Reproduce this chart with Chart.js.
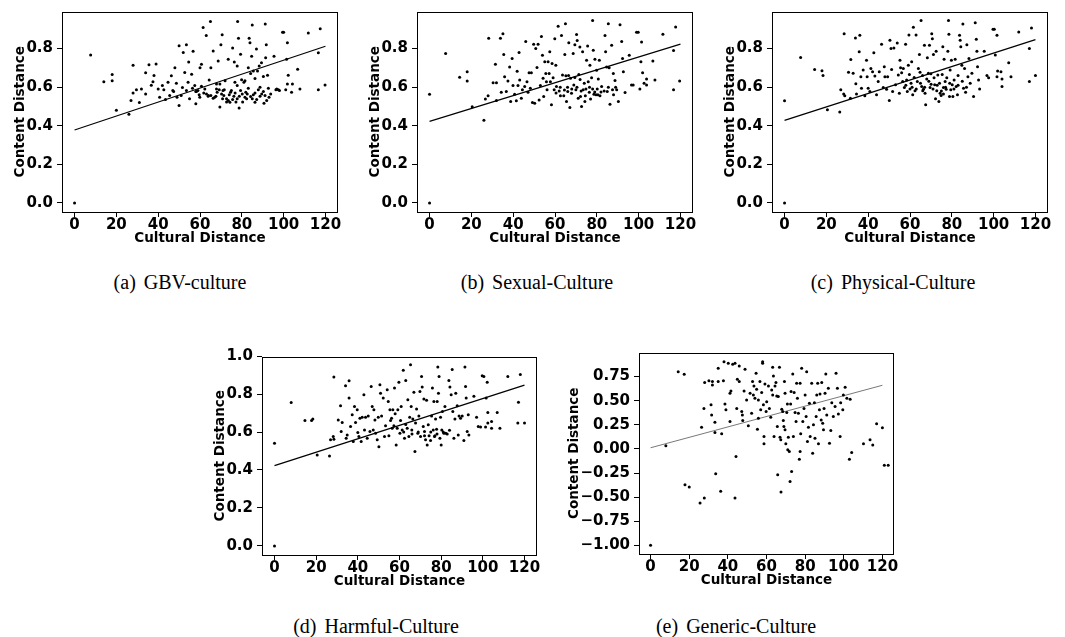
<!DOCTYPE html>
<html>
<head>
<meta charset="utf-8">
<script src="https://cdn.jsdelivr.net/npm/chart.js@4.4.1/dist/chart.umd.min.js"></script>
<style>
  body { margin: 0; background: #fff; }
  #fig { position: relative; width: 1065px; height: 637px; overflow: hidden; background: #fff; }
  canvas { position: absolute; }
  .cap { position: absolute; font-family: 'Liberation Serif', 'Times New Roman', serif; font-size: 20px;
         line-height: 20px; white-space: nowrap; transform: translateX(-50%); color: #000; }
  .cap span { margin-left: 8px; }
</style>
</head>
<body>
<div id="fig">
  <canvas id="cA" width="355" height="250" style="left:0px;top:0px"></canvas>
  <canvas id="cB" width="355" height="250" style="left:355px;top:0px"></canvas>
  <canvas id="cC" width="355" height="250" style="left:710px;top:0px"></canvas>
  <canvas id="cD" width="354" height="248" style="left:200px;top:345px"></canvas>
  <canvas id="cE" width="357" height="251" style="left:554px;top:341px"></canvas>
  <div class="cap" style="left:180px;top:272px">(a)<span>GBV-culture</span></div>
  <div class="cap" style="left:537px;top:272px">(b)<span>Sexual-Culture</span></div>
  <div class="cap" style="left:893px;top:272px">(c)<span>Physical-Culture</span></div>
  <div class="cap" style="left:376px;top:616px">(d)<span>Harmful-Culture</span></div>
  <div class="cap" style="left:736px;top:616px">(e)<span>Generic-Culture</span></div>
</div>
<script>
// tick values
const xTicks = [0, 20, 40, 60, 80, 100, 120];
const yTicksTop = [0, 0.2, 0.4, 0.6, 0.8];
const yTicksHarmful = [0, 0.2, 0.4, 0.6, 0.8, 1.0];
const yTicksGeneric = [-1, -0.75, -0.5, -0.25, 0, 0.25, 0.5, 0.75];

// fitted regression lines, read at x = 0 and x = 120
const fitX = [0, 120];
const gbvFit = [0.378, 0.812];
const sexualFit = [0.423, 0.823];
const physicalFit = [0.428, 0.846];
const harmfulFit = [0.423, 0.847];
const genericFit = [0.012, 0.66];

// [cultural distance, content distance]
const gbvPoints = [
  [0,0],[7.7,0.766],[14,0.628],[18,0.666],[18,0.633],[20,0.48],[26,0.46],[27,0.531],[28,0.713],[28,0.57],
  [29.6,0.587],[31,0.52],[32,0.59],[34,0.675],[34,0.565],[35.6,0.716],[36.7,0.61],[37.5,0.628],[38,0.66],[39,0.72],
  [40,0.59],[40.7,0.548],[42,0.608],[42.7,0.587],[43.5,0.536],[44.7,0.625],[45.5,0.557],[46.3,0.659],[47,0.582],[48,0.7],
  [48.7,0.62],[50,0.815],[50,0.505],[51,0.557],[52,0.78],[52.7,0.676],[53.5,0.82],[54.3,0.625],[54.6,0.73],[55,0.54],
  [56,0.667],[56.7,0.786],[57.5,0.608],[58,0.514],[59,0.582],[60,0.7],[60.7,0.718],[61.5,0.909],[62.3,0.59],[63,0.868],
  [64,0.557],[64.4,0.637],[65,0.94],[65.2,0.7],[66.3,0.787],[67,0.548],[67.9,0.616],[68.7,0.735],[69.5,0.497],[70,0.82],
  [70.6,0.871],[71,0.582],[72,0.633],[72.7,0.54],[73.5,0.744],[74.3,0.522],[75,0.582],[75.6,0.803],[76.4,0.73],[76.8,0.57],
  [77.8,0.71],[78,0.94],[78.4,0.854],[78.7,0.492],[79.4,0.77],[80.2,0.565],[81,0.625],[82.3,0.54],[83.5,0.854],[83.9,0.83],
  [84.7,0.76],[85,0.922],[86.3,0.522],[87,0.798],[87.5,0.684],[88.7,0.6],[89.5,0.565],[90.6,0.517],[91.2,0.927],[91.4,0.752],
  [91.7,0.82],[92.3,0.662],[93,0.548],[95.4,0.76],[96.3,0.587],[98,0.582],[99.5,0.885],[100,0.885],[101,0.587],[101.4,0.744],
  [101.8,0.83],[102.2,0.662],[101.8,0.616],[103.8,0.574],[104.2,0.616],[106.7,0.693],[107.8,0.59],[111.8,0.88],[117.5,0.902],[116.6,0.778],
  [119.8,0.611],[116.6,0.587],[97.5,0.587],[96.7,0.59],
  [63.1,0.565],[63.9,0.553],[65.2,0.557],[66.3,0.543],[67.6,0.553],[68.2,0.574],[69.2,0.586],[70.3,0.565],[70.8,0.54],[71.4,0.557],
  [72.7,0.523],[73.5,0.531],[74,0.56],[74.6,0.574],[75.6,0.536],[76.2,0.553],[77.2,0.523],[77.8,0.54],[78.8,0.553],[79.4,0.582],
  [80.4,0.523],[81.5,0.548],[81.9,0.574],[82.6,0.565],[83.1,0.594],[84.2,0.551],[85,0.54],[85.5,0.56],[86.3,0.57],[87.1,0.536],
  [87.9,0.587],[88.7,0.553],[90.3,0.577],[91.1,0.557],[91.9,0.531],[92.7,0.594],[93.8,0.565],[56.4,0.594],[58.3,0.577],[59.6,0.56],
  [60.7,0.604],[61.8,0.57],[58,0.577],[59.9,0.548],[69.5,0.616],[67.9,0.591],[71.6,0.587],[76.7,0.625],[77.8,0.608],[79.9,0.638],
  [81.5,0.633],[83.1,0.701],[84.2,0.671],[85.5,0.684],[86.3,0.645],[88.3,0.71],[89.4,0.727],[90.3,0.655],[53.5,0.582],[51.6,0.598],
  [49,0.548],[47.4,0.577]
];

const sexualPoints = [
  [0,0],[0,0.563],[7.7,0.774],[14.4,0.651],[18,0.68],[18,0.632],[20.4,0.498],[26,0.428],[26.7,0.538],[28,0.556],
  [28.3,0.854],[30.4,0.623],[31.5,0.719],[32,0.623],[32,0.531],[33.9,0.854],[34.3,0.574],[35.1,0.877],[35.5,0.769],[35.9,0.654],
  [36.7,0.577],[37.5,0.632],[38.3,0.705],[38.8,0.526],[39.5,0.748],[39.9,0.608],[40.7,0.563],[41.5,0.529],[41.9,0.683],[42.3,0.608],
  [42.8,0.779],[43.1,0.637],[43.9,0.543],[44.4,0.586],[45.5,0.603],[46,0.837],[46.6,0.628],[47.1,0.574],[47.6,0.675],[48.2,0.594],
  [48.7,0.675],[49.2,0.521],[49.8,0.822],[50.3,0.517],[50.8,0.8],[51.4,0.702],[51.9,0.822],[52.4,0.534],[53,0.608],[53.5,0.863],
  [54,0.765],[54.3,0.646],[54.6,0.551],[55.1,0.731],[55.6,0.671],[55.9,0.628],[56.2,0.586],[56.7,0.731],[57.2,0.671],[57.5,0.783],
  [57.8,0.628],[58.3,0.509],[58.6,0.723],[59.1,0.649],[59.6,0.586],[59.9,0.851],[60.4,0.714],[60.7,0.603],[61.5,0.916],[62,0.58],
  [62.6,0.556],[63.1,0.868],[63.6,0.663],[64.2,0.556],[64.7,0.769],[65,0.928],[65.2,0.659],[65.5,0.526],[66.1,0.577],[66.6,0.83],
  [67.1,0.495],[67.4,0.646],[67.9,0.568],[68.7,0.774],[69,0.611],[69.5,0.82],[70,0.586],[70.3,0.873],[70.6,0.842],[71.1,0.543],
  [71.4,0.666],[71.9,0.808],[72.2,0.551],[72.7,0.5],[73.2,0.783],[73.5,0.586],[74,0.62],[74.3,0.526],[74.8,0.591],[75.1,0.74],
  [75.6,0.813],[75.9,0.628],[76.4,0.574],[76.7,0.714],[77,0.539],[77.5,0.649],[78,0.945],[78.3,0.791],[78.6,0.563],[79.1,0.745],
  [79.6,0.56],[79.9,0.688],[80.2,0.591],[80.7,0.642],[81.2,0.74],[81.5,0.556],[82.3,0.603],[83.9,0.868],[84.2,0.783],[84.7,0.705],
  [85,0.577],[85.5,0.928],[85.9,0.7],[86.3,0.512],[87.1,0.817],[87.5,0.586],[87.9,0.671],[88.7,0.634],[89.5,0.586],[90.3,0.526],
  [91.1,0.923],[91.9,0.837],[92.3,0.748],[92.7,0.68],[93.5,0.572],[95.5,0.765],[96.6,0.611],[97.4,0.611],[99,0.885],[99.8,0.885],
  [100.6,0.591],[101.1,0.731],[101.4,0.834],[101.9,0.675],[102.6,0.62],[103.8,0.611],[103.8,0.642],[107.8,0.637],[106.8,0.735],[111.6,0.874],
  [117.7,0.912],[116.7,0.79],[116.7,0.586],[119.6,0.632],
  [60.5,0.57],[62.5,0.6],[64.5,0.585],[66,0.6],[68,0.59],[70.5,0.6],[72.5,0.58],[74.5,0.555],[76.5,0.6],[78,0.59],
  [79,0.575],[80.5,0.56],[82,0.575],[83.5,0.58],[85.5,0.6],[88,0.56],[89,0.6],[66.5,0.66],[69.5,0.65],[72,0.64]
];

const physicalPoints = [
  [0,0],[0,0.529],[7.7,0.754],[14.4,0.692],[17.9,0.685],[18.4,0.66],[20.5,0.483],[26.4,0.471],[26.9,0.586],[28.3,0.564],
  [28.5,0.877],[28.8,0.555],[30.6,0.677],[31.5,0.543],[31.7,0.743],[32.8,0.672],[33.9,0.855],[34.1,0.617],[34.4,0.565],[35.7,0.783],
  [36,0.869],[36.5,0.654],[36.8,0.594],[37.6,0.689],[38.4,0.555],[39.2,0.74],[39.5,0.654],[40,0.594],[40.8,0.577],[41.3,0.697],
  [42.1,0.68],[42.7,0.778],[43.2,0.658],[44,0.56],[44.8,0.629],[45.3,0.68],[46.4,0.822],[47.2,0.598],[47.7,0.706],[48,0.654],
  [48.8,0.589],[49.3,0.654],[50.1,0.531],[50.4,0.843],[50.9,0.8],[51.2,0.692],[51.7,0.577],[52.3,0.803],[53.1,0.612],[53.9,0.829],
  [54.4,0.663],[54.9,0.569],[55.2,0.74],[55.5,0.701],[56,0.675],[56.5,0.629],[56.8,0.697],[57.3,0.598],[57.9,0.822],[58.4,0.637],
  [58.7,0.577],[59.2,0.714],[59.5,0.87],[59.7,0.666],[60,0.591],[60.5,0.62],[60.8,0.731],[61.3,0.56],[61.6,0.91],[62.4,0.581],
  [62.9,0.87],[63.5,0.629],[64,0.697],[64.5,0.769],[64.8,0.677],[65.3,0.946],[65.6,0.603],[66.1,0.581],[66.4,0.589],[66.9,0.817],
  [67.2,0.569],[67.5,0.509],[68,0.642],[68.3,0.752],[68.8,0.672],[69.3,0.817],[69.6,0.598],[70.1,0.615],[70.4,0.877],[70.7,0.851],
  [71.2,0.769],[71.5,0.649],[71.8,0.612],[72.2,0.54],[72.5,0.786],[72.8,0.581],[73.3,0.663],[73.8,0.526],[74.1,0.62],[74.4,0.569],
  [74.9,0.557],[75.4,0.666],[75.7,0.809],[76,0.598],[76.3,0.745],[76.8,0.629],[77.3,0.589],[77.6,0.649],[78.1,0.786],[78.4,0.946],
  [78.6,0.874],[78.9,0.552],[79.2,0.689],[79.5,0.586],[79.8,0.74],[80.2,0.612],[80.5,0.552],[81.1,0.637],[81.6,0.745],[82.1,0.603],
  [82.7,0.56],[83.7,0.869],[84,0.843],[84.3,0.809],[84.8,0.714],[85.3,0.927],[85.6,0.594],[86.1,0.697],[86.6,0.574],[87.2,0.82],
  [87.7,0.654],[88.2,0.749],[88.8,0.62],[89.6,0.672],[90.4,0.552],[91.2,0.934],[91.7,0.848],[92,0.786],[92.3,0.706],[92.8,0.637],
  [93.3,0.591],[95.5,0.786],[96.8,0.66],[97.6,0.649],[99.7,0.9],[100.3,0.9],[100.8,0.766],[101.6,0.869],[101.6,0.654],[101.9,0.684],
  [103.5,0.68],[104,0.642],[104,0.603],[107.2,0.726],[108.3,0.654],[112,0.886],[117.1,0.8],[117.1,0.629],[118.1,0.906],[120,0.66],
  [61,0.6],[63,0.59],[65,0.62],[67,0.6],[69,0.63],[71,0.59],[73,0.61],[75,0.58],[77,0.6],[79,0.62],
  [81,0.59],[83,0.61],[85,0.63],[87,0.6],[76,0.565],[58,0.61],[62,0.65],[66,0.66],[70,0.67],[83,0.66]
];

const harmfulPoints = [
  [0,0],[0,0.541],[8,0.756],[14.6,0.661],[17.8,0.661],[18.4,0.668],[20.5,0.479],[26.4,0.474],[26.9,0.559],[28.2,0.576],
  [28.5,0.89],[28.5,0.562],[30.6,0.664],[31.7,0.738],[32,0.603],[32.5,0.65],[34.1,0.844],[34.4,0.567],[34.9,0.585],[35.8,0.87],
  [35.8,0.779],[36.5,0.629],[37.3,0.691],[37.8,0.55],[38.4,0.735],[38.9,0.65],[39.7,0.717],[40,0.597],[40.5,0.576],[41,0.673],
  [41.6,0.55],[42.1,0.678],[42.9,0.796],[43.2,0.611],[43.7,0.678],[44.5,0.567],[45,0.685],[45.8,0.603],[46.4,0.84],[46.9,0.735],
  [47.4,0.611],[47.7,0.717],[48.2,0.664],[48.5,0.594],[49.3,0.559],[49.8,0.678],[50.1,0.523],[50.6,0.849],[50.9,0.805],[51.4,0.685],
  [52.2,0.779],[52.8,0.576],[53.3,0.633],[54.1,0.823],[54.6,0.761],[54.9,0.58],[55.4,0.717],[55.7,0.661],[56.2,0.673],[56.5,0.62],
  [56.8,0.717],[57.3,0.633],[57.6,0.832],[57.9,0.696],[58.4,0.532],[58.9,0.62],[59.2,0.717],[59.7,0.862],[60.2,0.594],[60.5,0.661],
  [60.8,0.735],[61.3,0.611],[61.8,0.925],[62.4,0.567],[63,0.872],[63.7,0.62],[64,0.77],[64.5,0.576],[64.9,0.678],[65.3,0.955],
  [65.6,0.735],[65.9,0.611],[66.4,0.668],[66.9,0.809],[67.4,0.497],[67.7,0.647],[68.2,0.721],[68.8,0.594],[69.3,0.685],[69.8,0.814],
  [70.1,0.576],[70.6,0.893],[70.9,0.837],[71.4,0.629],[71.7,0.774],[72,0.603],[72.5,0.559],[73,0.767],[73.3,0.532],[73.8,0.638],
  [74.2,0.58],[74.9,0.555],[75.4,0.685],[75.8,0.832],[76.2,0.611],[76.5,0.761],[76.8,0.576],[77.3,0.668],[77.8,0.615],[78.1,0.761],
  [78.4,0.943],[78.7,0.805],[79,0.893],[79.4,0.567],[79.7,0.678],[80,0.532],[80.3,0.611],[80.6,0.708],[81.3,0.594],[81.8,0.735],
  [82.2,0.594],[82.9,0.59],[83.7,0.872],[84.2,0.837],[84.8,0.796],[85.3,0.929],[85.6,0.708],[86.1,0.567],[86.6,0.668],[87,0.805],
  [87.7,0.738],[88.2,0.585],[88.6,0.685],[89.3,0.673],[90.1,0.685],[90.9,0.555],[91.4,0.943],[91.7,0.84],[92,0.779],[92.5,0.603],
  [93,0.691],[93.3,0.585],[95.7,0.788],[97,0.678],[97.8,0.629],[98.9,0.626],[99.7,0.897],[100.5,0.893],[101.3,0.626],[101.6,0.779],
  [102.1,0.862],[102.4,0.647],[102.4,0.703],[104.2,0.656],[104.2,0.62],[106.9,0.703],[108.2,0.62],[112,0.893],[117.1,0.757],[118,0.903],
  [116.8,0.648],[120,0.648],
  [62,0.6],[66,0.59],[69,0.6],[72,0.58],[75,0.6],[78,0.59],[81,0.6],[84,0.61],[77,0.58],[63,0.64]
];

const genericPoints = [
  [0,-1],[7.9,0.032],[14.3,0.8],[17.4,0.774],[17.8,-0.372],[20,-0.396],[25.6,-0.562],[26.4,0.225],[27.6,0.42],[27.8,-0.51],
  [28,0.69],[30.2,0.708],[32,0.7],[32,0.664],[31.3,0.457],[31.6,0.353],[33.3,0.277],[33.7,-0.258],[33.3,0.17],[35,0.836],
  [35,0.7],[36.3,-0.44],[36.8,0.156],[37.7,0.708],[38,0.905],[38.5,0.467],[39,0.405],[40.2,0.888],[41.1,0.577],[41.1,0.284],
  [41.6,0.6],[42.5,0.878],[43.7,0.888],[43.7,-0.51],[44.2,-0.078],[44.6,0.42],[44.9,0.722],[45.9,0.86],[45.9,0.698],[47.2,0.388],
  [47.5,0.353],[47.7,0.294],[48.4,0.6],[48.9,0.826],[49.7,0.508],[50.6,0.24],[51.5,0.577],[52.3,0.37],[52.8,0.698],[53.2,0.56],
  [53.5,0.653],[54,0.526],[54.6,0.785],[54.9,0.619],[55.3,0.205],[55.8,0.318],[55.8,0.508],[56.6,0.698],[57,0.405],[57.5,0.584],
  [58,0.888],[58,0.905],[58.4,0.457],[58.7,0.129],[58.7,0.053],[59.2,0.674],[59.8,0.388],[60.1,0.49],[61,0.653],[61.5,0.42],
  [62.2,0.329],[62.7,0.612],[63.2,0.847],[63.2,0.56],[63.6,0.757],[63.9,0.129],[64.4,0.653],[64.9,0.688],[65.3,0.55],[65.6,0.232],
  [65.8,-0.268],[66.1,0.543],[66.7,0.847],[67,0.122],[67.4,0.094],[67.5,-0.448],[67.9,0.412],[68.4,0.388],[68.7,0.294],[69,0.232],
  [69.3,0.698],[69.6,0.577],[69.6,0.198],[70,0.053],[70.5,0.377],[70.8,0.467],[71,-0.009],[71.3,0.122],[71.8,-0.027],[72.2,-0.337],
  [72.5,0.467],[72.7,0.595],[73,-0.234],[73.6,0.778],[73.9,0.129],[74.3,0.584],[74.8,0.377],[75.3,0.284],[75.6,0.681],[76,0.526],
  [76.5,0.37],[77,-0.106],[77.4,-0.027],[77.4,0.681],[77.7,0.156],[78.2,0.836],[78.8,0.284],[79.4,0.42],[80,0.56],[80.5,0.336],
  [80.8,0.8],[81.2,0.077],[81.7,0.225],[82.2,0.474],[82.6,0.129],[83.4,0.681],[83.9,-0.044],[84.3,0.25],[84.8,0.48],[85.1,0.111],
  [85.7,0.336],[86,0.56],[86.5,0.681],[86.9,0.053],[87.4,0.405],[87.7,0.57],[88.3,0.3],[88.6,0.688],[89.1,0.267],[89.5,0.198],
  [89.8,0.42],[90.3,0.577],[90.7,0.778],[91.2,0.353],[92,0.629],[92.6,0.06],[93.3,0.191],[93.8,0.48],[94.6,0.336],[95.5,0.44],
  [96,0.785],[96.7,0.629],[97.2,0.363],[98.1,0.129],[98.4,0.48],[99.5,0.405],[99.8,0.56],[100.7,0.64],[101.6,0.526],[102.9,-0.106],
  [104.1,-0.037],[103.3,0.515],[110.2,0.053],[113.6,0.094],[115,0.04],[117,0.26],[120,0.22],[121,-0.17],[123,-0.17]
];

const FONT = "'DejaVu Sans', sans-serif";

// full box around the plot area, like matplotlib spines
const framePlugin = {
  id: 'frame',
  afterDraw(chart) {
    const a = chart.chartArea, c = chart.ctx;
    c.save();
    c.strokeStyle = '#000';
    c.lineWidth = 1;
    c.strokeRect(Math.round(a.left) + 0.5, Math.round(a.top) + 0.5,
                 Math.round(a.right - a.left) - 1, Math.round(a.bottom - a.top) - 1);
    c.restore();
  }
};

function makeChart(id, points, fit, o) {
  const ctx = document.getElementById(id).getContext('2d');
  return new Chart(ctx, {
    type: 'scatter',
    data: {
      datasets: [
        {
          data: points.map(p => ({ x: p[0], y: p[1] })),
          pointRadius: 1.5,
          pointBackgroundColor: '#000',
          pointBorderWidth: 0
        },
        {
          type: 'line',
          data: fitX.map((x, i) => ({ x: x, y: fit[i] })),
          borderColor: o.lineColor || '#000',
          borderWidth: o.lineWidth || 1.2,
          pointRadius: 0,
          fill: false
        }
      ]
    },
    options: {
      responsive: false,
      devicePixelRatio: 1,
      animation: false,
      layout: { padding: { left: 0, top: o.padTop, right: 17, bottom: 0 } },
      plugins: { legend: { display: false }, tooltip: { enabled: false } },
      scales: {
        x: {
          type: 'linear',
          min: o.xMin, max: o.xMax,
          afterBuildTicks: s => { s.ticks = xTicks.map(v => ({ value: v })); },
          afterFit: s => { s.height = 38; },
          grid: { drawOnChartArea: false, drawTicks: true, tickLength: 5, color: '#000' },
          border: { display: false },
          ticks: {
            autoSkip: false, maxRotation: 0, padding: 1, color: '#000',
            font: { family: FONT, size: 15, weight: 'bold', lineHeight: 1 },
            callback: v => String(v)
          },
          title: {
            display: true, text: 'Cultural Distance', color: '#000',
            font: { family: FONT, size: 13.5, weight: 'bold', lineHeight: 1.2 },
            padding: { top: 0, bottom: 3 }
          }
        },
        y: {
          type: 'linear',
          min: o.yMin, max: o.yMax,
          afterBuildTicks: s => { s.ticks = o.yTicks.map(v => ({ value: v })); },
          afterFit: s => { s.width = o.yWidth; },
          grid: { drawOnChartArea: false, drawTicks: true, tickLength: 5, color: '#000' },
          border: { display: false },
          ticks: {
            autoSkip: false, padding: 4, color: '#000',
            font: { family: FONT, size: 15, weight: 'bold', lineHeight: 1 },
            callback: v => v.toFixed(o.digits).replace('-', '\u2212')
          },
          title: {
            display: true, text: 'Content Distance', color: '#000',
            font: { family: FONT, size: 13.5, weight: 'bold', lineHeight: 1.2 },
            padding: { top: 12.5, bottom: 0 }
          }
        }
      }
    },
    plugins: [framePlugin]
  });
}

const topRow = { xMin: -6, xMax: 126, yMin: -0.047, yMax: 0.992, yTicks: yTicksTop, yWidth: 62, digits: 1, padTop: 9 };
makeChart('cA', gbvPoints, gbvFit, topRow);
makeChart('cB', sexualPoints, sexualFit, topRow);
makeChart('cC', physicalPoints, physicalFit, topRow);
makeChart('cD', harmfulPoints, harmfulFit,
  { xMin: -6, xMax: 126, yMin: -0.048, yMax: 0.998, yTicks: yTicksHarmful, yWidth: 62, digits: 1, padTop: 11 });
makeChart('cE', genericPoints, genericFit,
  { xMin: -6, xMax: 126, yMin: -1.09, yMax: 1.0, yTicks: yTicksGeneric, yWidth: 85, digits: 2, padTop: 11,
    lineWidth: 0.8, lineColor: '#555' });
</script>
</body>
</html>
